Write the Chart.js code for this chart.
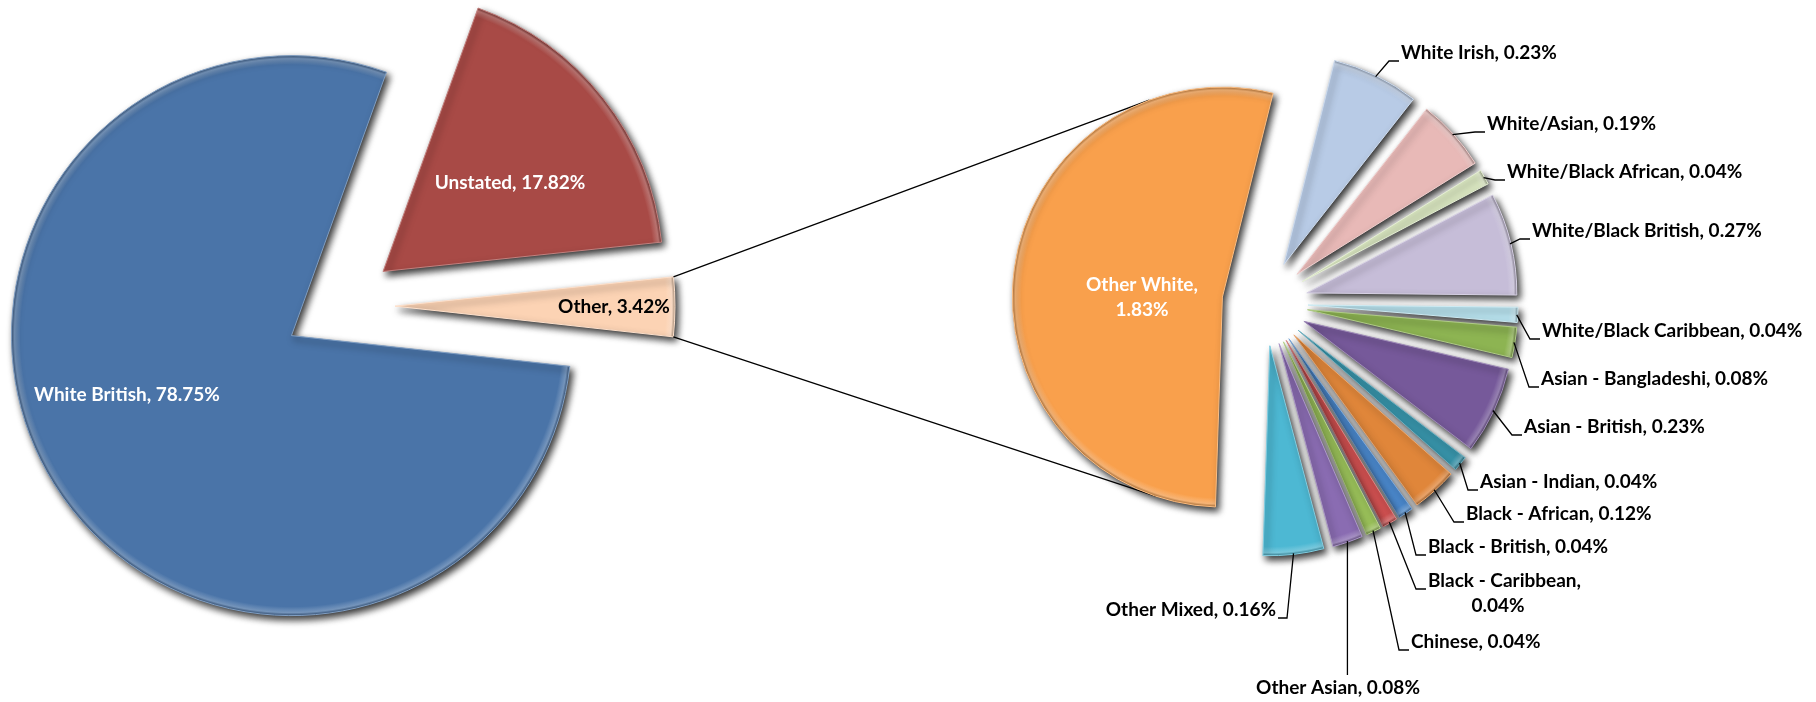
<!DOCTYPE html>
<html lang="en">
<head>
<meta charset="UTF-8">
<title>Ethnicity breakdown</title>
<script src="https://cdn.jsdelivr.net/npm/chart.js"></script>
<style>
  html, body { margin: 0; padding: 0; background: #fff; }
  .wrap { position: relative; width: 1816px; height: 702px; }
  .wrap canvas { position: absolute; left: 0; top: 0; }
</style>
</head>
<body>
<div class="wrap">
  <canvas id="mainPie" width="1816" height="702"></canvas>
  <canvas id="otherPie" width="1816" height="702"></canvas>
</div>
<script>
// data
const mainLabels = ['White British', 'Unstated', 'Other'];
const mainValues = [78.75, 17.82, 3.42];

const otherLabels = ['Other White', 'White Irish', 'White/Asian', 'White/Black African',
  'White/Black British', 'White/Black Caribbean', 'Asian - Bangladeshi', 'Asian - British',
  'Asian - Indian', 'Black - African', 'Black - British', 'Black - Caribbean', 'Chinese',
  'Other Asian', 'Other Mixed'];
const otherValues = [1.83, 0.23, 0.19, 0.04, 0.27, 0.04, 0.08, 0.23, 0.04, 0.12, 0.04, 0.04, 0.04, 0.08, 0.16];

// styles
const mainColors = ['#4a74a8', '#a84a46', '#fcd3b4'];
const otherColors = ['#f9a04c', '#b8cbe6', '#e8b9b7', '#d9e6c0', '#c6bdd8', '#b8e2ee', '#8db452',
  '#76599a', '#3793a9', '#e0863a', '#4a87cb', '#cf5050', '#9bc25a', '#8a6cb2', '#4db8d3'];

const W = 1816, H = 702;
const LEFT = { cx: 339, cy: 306, r: 280, explode: 56, rotation: 96.3 };
const RIGHT = { cx: 1265, cy: 303, r: 210, explode: 43, rotation: 181.9 };
const FONT = 'bold 19px Lato, "Open Sans", sans-serif';

// label placement: text anchor + which side the leader comes from
const mainLabelPos = [
  { x: 127, y: 395, color: '#fff' },
  { x: 510, y: 183, color: '#fff' },
  { x: 614, y: 307, color: '#000' }
];
const otherLabelPos = [
  { x: 1142, y: 285, side: 'in' },
  { x: 1401, y: 53, side: 'r' },
  { x: 1487, y: 124, side: 'r' },
  { x: 1507, y: 172, side: 'r' },
  { x: 1532, y: 231, side: 'r' },
  { x: 1542, y: 331, side: 'r' },
  { x: 1541, y: 379, side: 'r' },
  { x: 1524, y: 427, side: 'r' },
  { x: 1480, y: 482, side: 'r' },
  { x: 1466, y: 514, side: 'r' },
  { x: 1428, y: 547, side: 'r' },
  { x: 1428, y: 581, side: 'r', wrapX: 1498 },
  { x: 1411, y: 642, side: 'r' },
  { x: 1338, y: 688, side: 'b' },
  { x: 1276, y: 610, side: 'l' }
];

function shade(hex, amt) {
  const n = parseInt(hex.slice(1), 16);
  let c = [(n >> 16) & 255, (n >> 8) & 255, n & 255];
  c = c.map(v => Math.round(amt >= 0 ? v + (255 - v) * amt : v * (1 + amt)));
  return `rgb(${c[0]},${c[1]},${c[2]})`;
}

function padFor(L) {
  const hw = Math.min(L.cx, W - L.cx), hh = Math.min(L.cy, H - L.cy);
  return { left: L.cx - hw, right: W - L.cx - hw, top: L.cy - hh, bottom: H - L.cy - hh };
}

function rimFill(colors, L) {
  return (c) => {
    const base = colors[c.dataIndex % colors.length];
    const g = c.chart.ctx.createRadialGradient(L.cx, L.cy, 0, L.cx, L.cy, L.r);
    g.addColorStop(0, base);
    g.addColorStop((L.r - 9) / L.r, base);
    g.addColorStop((L.r - 3) / L.r, shade(base, 0.25));
    g.addColorStop(1, shade(base, -0.3));
    return g;
  };
}

// where the slice sits once pulled out
function sliceGeom(arc, dist) {
  const mid = (arc.startAngle + arc.endAngle) / 2;
  return {
    mid,
    x: arc.x + Math.cos(mid) * dist,
    y: arc.y + Math.sin(mid) * dist,
    r: arc.outerRadius,
    start: arc.startAngle,
    end: arc.endAngle
  };
}

// draws every slice pulled out from the centre, with a soft shadow
const explodePlugin = {
  id: 'explode',
  beforeDatasetDraw(chart, args, opts) {
    const ctx = chart.ctx;
    const dist = opts.distance || 0;
    ctx.save();
    ctx.shadowColor = 'rgba(0,0,0,0.8)';
    ctx.shadowBlur = 7;
    ctx.shadowOffsetX = 3;
    ctx.shadowOffsetY = 4;
    args.meta.data.forEach(arc => {
      const mid = (arc.startAngle + arc.endAngle) / 2;
      ctx.save();
      ctx.translate(Math.cos(mid) * dist, Math.sin(mid) * dist);
      arc.draw(ctx);
      ctx.restore();
    });
    ctx.restore();
    return false;
  }
};

function txt(ctx, s, x, y, align, color) {
  ctx.fillStyle = color;
  ctx.textAlign = align;
  ctx.textBaseline = 'middle';
  ctx.fillText(s, x, y);
}

const fmt = v => v.toFixed(2) + '%';

const mainLabelPlugin = {
  id: 'mainLabels',
  afterDatasetsDraw(chart) {
    const ctx = chart.ctx;
    ctx.save();
    ctx.font = FONT;
    mainLabels.forEach((l, i) => {
      const p = mainLabelPos[i];
      txt(ctx, l + ', ' + fmt(mainValues[i]), p.x, p.y, 'center', p.color);
    });
    ctx.restore();
  }
};

let mainChart;

// connector lines from the "Other" slice to the second pie (tangents)
const connectorPlugin = {
  id: 'connector',
  beforeDatasetsDraw(chart) {
    const src = sliceGeom(mainChart.getDatasetMeta(0).data[2], LEFT.explode);
    const dst = sliceGeom(chart.getDatasetMeta(0).data[0], RIGHT.explode);
    const ctx = chart.ctx;
    const ends = [
      [src.x + Math.cos(src.start) * src.r, src.y + Math.sin(src.start) * src.r, -1],
      [src.x + Math.cos(src.end) * src.r, src.y + Math.sin(src.end) * src.r, 1]
    ];
    ctx.save();
    ctx.strokeStyle = '#000';
    ctx.lineWidth = 1.3;
    ends.forEach(([px, py, sgn]) => {
      const dx = dst.x - px, dy = dst.y - py;
      const d = Math.hypot(dx, dy);
      const a = Math.atan2(dy, dx) + sgn * Math.asin(dst.r / d);
      const len = Math.sqrt(d * d - dst.r * dst.r);
      ctx.beginPath();
      ctx.moveTo(px, py);
      ctx.lineTo(px + Math.cos(a) * len, py + Math.sin(a) * len);
      ctx.stroke();
    });
    ctx.restore();
  }
};

const otherLabelPlugin = {
  id: 'otherLabels',
  afterDatasetsDraw(chart) {
    const ctx = chart.ctx;
    const arcs = chart.getDatasetMeta(0).data;
    ctx.save();
    ctx.font = FONT;
    ctx.strokeStyle = '#000';
    ctx.lineWidth = 1.3;
    otherLabels.forEach((l, i) => {
      const p = otherLabelPos[i];
      const g = sliceGeom(arcs[i], RIGHT.explode);
      const sx = g.x + Math.cos(g.mid) * (g.r - 1);
      const sy = g.y + Math.sin(g.mid) * (g.r - 1);
      const val = fmt(otherValues[i]);
      if (p.side === 'in') {
        txt(ctx, l + ',', p.x, p.y, 'center', '#fff');
        txt(ctx, val, p.x, p.y + 25, 'center', '#fff');
        return;
      }
      ctx.beginPath();
      ctx.moveTo(sx, sy);
      if (p.side === 'r') {
        ctx.lineTo(p.x - 12, p.y + 8);
        ctx.lineTo(p.x - 2, p.y + 8);
      } else if (p.side === 'l') {
        ctx.lineTo(p.x + 11, p.y + 8);
        ctx.lineTo(p.x + 2, p.y + 8);
      } else {
        ctx.lineTo(sx, p.y - 13);
      }
      ctx.stroke();
      if (p.wrapX) {
        txt(ctx, l + ',', p.x, p.y, 'left', '#000');
        txt(ctx, val, p.wrapX, p.y + 25, 'center', '#000');
      } else {
        const align = p.side === 'r' ? 'left' : p.side === 'l' ? 'right' : 'center';
        txt(ctx, l + ', ' + val, p.x, p.y, align, '#000');
      }
    });
    ctx.restore();
  }
};

function pieConfig(labels, values, colors, L, plugins) {
  return {
    type: 'pie',
    data: {
      labels: labels,
      datasets: [{
        data: values,
        backgroundColor: rimFill(colors, L),
        borderColor: colors.map(c => shade(c, 0.3)),
        borderWidth: 1,
        hoverOffset: 0
      }]
    },
    options: {
      responsive: false,
      animation: false,
      events: [],
      radius: L.r,
      rotation: L.rotation,
      layout: { padding: padFor(L) },
      plugins: {
        legend: { display: false },
        tooltip: { enabled: false },
        explode: { distance: L.explode }
      }
    },
    plugins: plugins
  };
}

mainChart = new Chart(document.getElementById('mainPie'),
  pieConfig(mainLabels, mainValues, mainColors, LEFT, [explodePlugin, mainLabelPlugin]));

new Chart(document.getElementById('otherPie'),
  pieConfig(otherLabels, otherValues, otherColors, RIGHT, [connectorPlugin, explodePlugin, otherLabelPlugin]));
</script>
</body>
</html>
